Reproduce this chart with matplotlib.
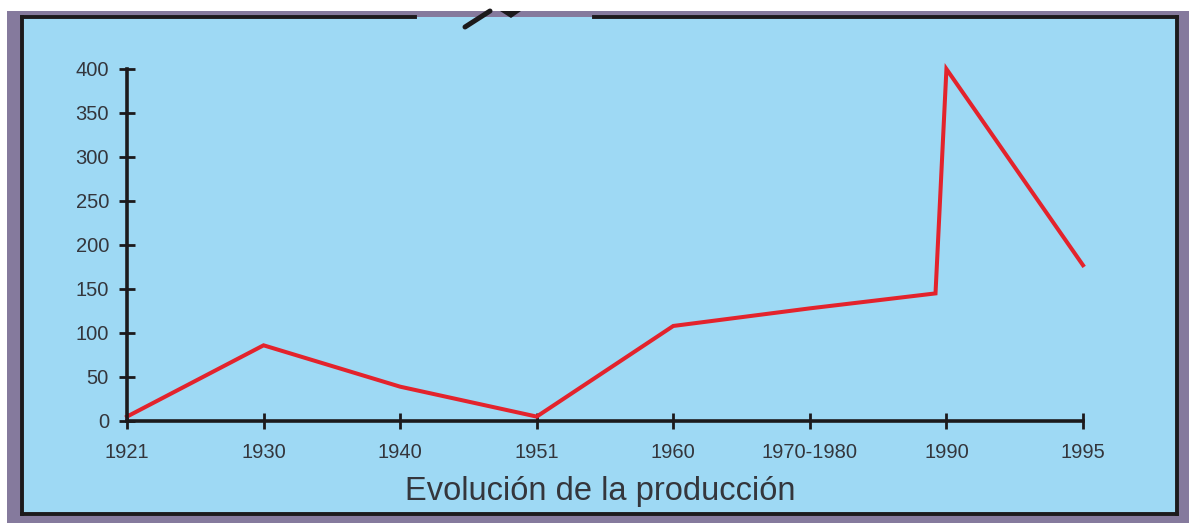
import matplotlib
matplotlib.use('Agg')
import matplotlib.pyplot as plt
from matplotlib.patches import Rectangle, Polygon
from matplotlib.lines import Line2D

plt.rcParams['font.family'] = ['Liberation Sans', 'DejaVu Sans']

# categorías del eje x (espaciado uniforme) y serie de producción
categories = ['1921', '1930', '1940', '1951', '1960', '1970-1980', '1990', '1995']
x_pos = [0, 1, 2, 3, 4, 5, 5.92, 6, 7]
production = [5, 86, 39, 5, 108, 128, 145, 400, 177]
y_ticks = [0, 50, 100, 150, 200, 250, 300, 350, 400]

W, H = 1189, 523
BLUE = '#9ed9f4'
PURPLE = '#857a9d'
INK = '#1c1a1c'
TEXT = '#34363c'
RED = '#e3232c'


def fx(px):
    return px / W


def fy(py):
    # py medido desde arriba
    return (H - py) / H


fig = plt.figure(figsize=(W / 100, H / 100), dpi=100)
fig.patch.set_facecolor('white')

# fondo morado y panel azul
fig.patches.append(Rectangle((fx(7), 0), fx(W - 7), fy(11), transform=fig.transFigure,
                             facecolor=PURPLE, edgecolor='none', zorder=0))
fig.patches.append(Rectangle((fx(22), fy(514)), fx(1177 - 22), (514 - 17) / H,
                             transform=fig.transFigure, facecolor=BLUE, edgecolor='none', zorder=1))

# borde del panel, con hueco arriba
border = [
    ((22, 22), (17, 514)),
    ((22, 1177), (514, 514)),
    ((1177, 1177), (17, 514)),
    ((22, 415), (17, 17)),
    ((594, 1177), (17, 17)),
]
for xs, ys in border:
    fig.lines.append(Line2D([fx(x) for x in xs], [fy(y) for y in ys], transform=fig.transFigure,
                            color=INK, linewidth=2.8, solid_capstyle='projecting', zorder=2))

# trozo de dibujo en el hueco superior
fig.lines.append(Line2D([fx(465), fx(490)], [fy(27), fy(11)], transform=fig.transFigure,
                        color=INK, linewidth=3.6, solid_capstyle='round', zorder=2))
fig.patches.append(Polygon([(fx(500), fy(11)), (fx(521), fy(11)), (fx(511), fy(18))],
                           closed=True, transform=fig.transFigure, facecolor=INK,
                           edgecolor='none', zorder=2))

ax = fig.add_axes([fx(127), fy(421), fx(1083 - 127), (421 - 69) / H])
ax.patch.set_visible(False)
ax.set_zorder(3)

ax.plot(x_pos, production, color=RED, linewidth=2.9, solid_joinstyle='miter', clip_on=False, zorder=3)

ax.set_xlim(0, len(categories) - 1)
ax.set_ylim(0, 400)
ax.set_xticks(range(len(categories)))
ax.set_xticklabels(categories)
ax.set_yticks(y_ticks)
ax.set_yticklabels([str(v) for v in y_ticks])

for side in ['top', 'right']:
    ax.spines[side].set_visible(False)
for side in ['left', 'bottom']:
    ax.spines[side].set_linewidth(2.6)
    ax.spines[side].set_color(INK)
    ax.spines[side].set_zorder(4)

ax.tick_params(axis='both', direction='inout', length=12, width=2.0, color=INK,
               labelsize=14.5, labelcolor=TEXT)
ax.tick_params(axis='y', pad=7)
ax.tick_params(axis='x', pad=10)

fig.text(fx(600), fy(500), 'Evolución de la producción', ha='center', va='baseline',
         fontsize=23.5, color=TEXT)

fig.savefig('out.png', dpi=100, facecolor=fig.get_facecolor())
